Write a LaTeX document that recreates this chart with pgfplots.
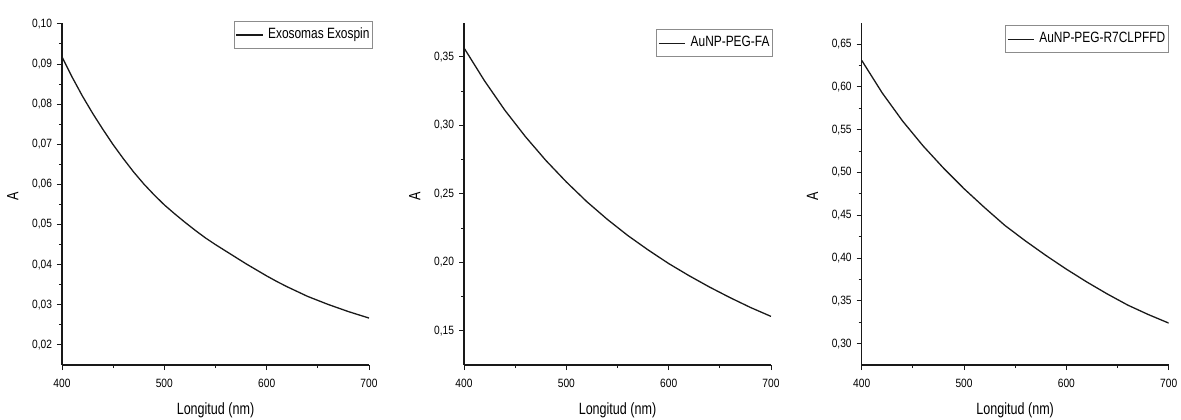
\documentclass[border=0pt]{standalone}
\usepackage{fontspec}
\setmainfont{Liberation Sans}
\newfontfamily\tickfont{Liberation Sans}[FakeStretch=0.85]
\newfontfamily\labfont{Liberation Sans}[FakeStretch=0.77]
\newfontfamily\legfont{Liberation Sans}[FakeStretch=0.8]
\usepackage{pgfplots}
\pgfplotsset{compat=1.18}
\pgfplotsset{myax/.style={
  scale only axis, width=153.5pt, height=171.15pt,
  axis x line=bottom, axis y line=left,
  axis line style={-, line width=0.55pt, black!90},
  xmin=400, xmax=700, xtick={400,500,600,700}, minor x tick num=1, minor y tick num=1,
  tick align=outside, major tick length=2.5pt, minor tick length=1.5pt,
  every tick/.style={black!90, line width=0.5pt},
  ticklabel style={font=\tickfont\fontsize{6}{7}\selectfont},
  /pgf/number format/assume math mode=true,
  y tick label style={xshift=1pt, /pgf/number format/fixed, /pgf/number format/fixed zerofill, /pgf/number format/precision=2, /pgf/number format/use comma},
  x tick label style={yshift=-1pt},
  xlabel={Longitud (nm)}, ylabel={A},
  label style={font=\labfont\fontsize{8.15}{9}\selectfont},
  xlabel style={at={(axis description cs:0.5,-0.1315)}, anchor=center},
  ylabel style={at={(axis description cs:-0.16,0.4917)}, anchor=center},
  legend style={anchor=north east, draw=black!45, line width=0.4pt,
    font=\legfont\fontsize{7.45}{8}\selectfont, inner xsep=0.8pt, inner ysep=1.5pt,
    nodes={inner xsep=0.75pt}, /tikz/every odd column/.append style={column sep=1.6pt},
    legend cell align=left},
  legend image code/.code={\draw[line width=0.6pt,black!90] (0pt,0pt) -- (13.2pt,0pt);},
}}
\begin{document}
\begin{tikzpicture}
\useasboundingbox (0,0) rectangle (590.5pt,209.5pt);
\begin{axis}[myax, at={(31pt,27pt)}, anchor=south west,
  ymin=0.015, ymax=0.1003, ytick={0.02,0.03,0.04,0.05,0.06,0.07,0.08,0.09,0.10},
  legend style={at={(axis description cs:1.013,1.006)}}]
\addplot[black!90, line width=0.65pt] coordinates {
(400,0.0918) (410,0.0867) (420,0.0820) (430,0.0777) (440,0.0737) (450,0.0699)
(460,0.0664) (470,0.0631) (480,0.0601) (490,0.0574) (500,0.0549) (510,0.0527)
(520,0.0506) (530,0.0486) (540,0.0467) (550,0.0450) (560,0.0434) (570,0.0418)
(580,0.0402) (590,0.0387) (600,0.0372) (610,0.0358) (620,0.0345) (630,0.0333)
(640,0.0321) (650,0.0311) (660,0.0301) (670,0.0292) (680,0.0283) (690,0.0275) (700,0.0267)};
\addlegendentry{Exosomas Exospin}
\end{axis}
\begin{axis}[myax, at={(232pt,27pt)}, anchor=south west,
  ymin=0.125, ymax=0.375, ytick={0.15,0.20,0.25,0.30,0.35},
  legend style={at={(axis description cs:1.0065,0.9816)}}]
\addplot[black!90, line width=0.65pt] coordinates {
(400,0.3566) (420,0.3326) (440,0.3110) (460,0.2918) (480,0.2744) (500,0.2587)
(520,0.2443) (540,0.2314) (560,0.2196) (580,0.2090) (600,0.1991) (620,0.1902)
(640,0.1819) (660,0.1742) (680,0.1670) (700,0.1605)};
\addlegendentry{AuNP-PEG-FA}
\end{axis}
\begin{axis}[myax, at={(430.85pt,27pt)}, anchor=south west,
  ymin=0.275, ymax=0.675, ytick={0.30,0.35,0.40,0.45,0.50,0.55,0.60,0.65},
  legend style={at={(axis description cs:1.0,0.9933)}}]
\addplot[black!90, line width=0.65pt] coordinates {
(400,0.631) (420,0.593) (440,0.560) (460,0.531) (480,0.505) (500,0.481)
(520,0.459) (540,0.438) (560,0.420) (580,0.403) (600,0.387) (620,0.372)
(640,0.358) (660,0.345) (680,0.334) (700,0.324)};
\addlegendentry{AuNP-PEG-R7CLPFFD}
\end{axis}
\end{tikzpicture}
\end{document}
